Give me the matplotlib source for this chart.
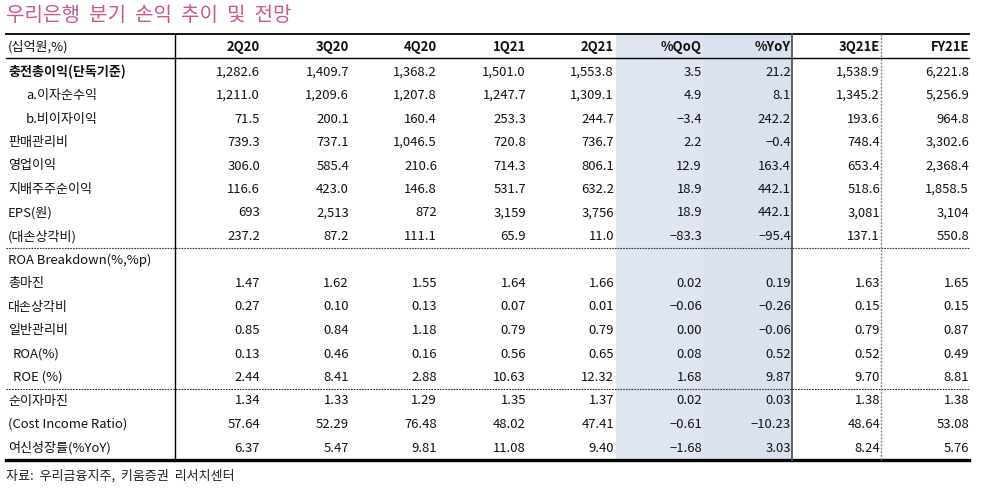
import matplotlib
matplotlib.use('Agg')
import matplotlib.pyplot as plt
from matplotlib.patches import Rectangle

plt.rcParams['font.family'] = ['Noto Sans CJK KR', 'DejaVu Sans']

TITLE = '우리은행  분기  손익  추이  및  전망'
UNIT = '(십억원,%)'
SOURCE = '자료:  우리금융지주,  키움증권  리서치센터'

columns = ['2Q20', '3Q20', '4Q20', '1Q21', '2Q21', '%QoQ', '%YoY', '3Q21E', 'FY21E']

row_labels = ['충전총이익(단독기준)', 'a.이자순수익', 'b.비이자이익', '판매관리비', '영업이익',
              '지배주주순이익', 'EPS(원)', '(대손상각비)', 'ROA Breakdown(%,%p)', '총마진',
              '대손상각비', '일반관리비', 'ROA(%)', 'ROE (%)', '순이자마진',
              '(Cost Income Ratio)', '여신성장률(%YoY)']

col_2q20 = ['1,282.6', '1,211.0', '71.5', '739.3', '306.0', '116.6', '693', '237.2', '',
            '1.47', '0.27', '0.85', '0.13', '2.44', '1.34', '57.64', '6.37']
col_3q20 = ['1,409.7', '1,209.6', '200.1', '737.1', '585.4', '423.0', '2,513', '87.2', '',
            '1.62', '0.10', '0.84', '0.46', '8.41', '1.33', '52.29', '5.47']
col_4q20 = ['1,368.2', '1,207.8', '160.4', '1,046.5', '210.6', '146.8', '872', '111.1', '',
            '1.55', '0.13', '1.18', '0.16', '2.88', '1.29', '76.48', '9.81']
col_1q21 = ['1,501.0', '1,247.7', '253.3', '720.8', '714.3', '531.7', '3,159', '65.9', '',
            '1.64', '0.07', '0.79', '0.56', '10.63', '1.35', '48.02', '11.08']
col_2q21 = ['1,553.8', '1,309.1', '244.7', '736.7', '806.1', '632.2', '3,756', '11.0', '',
            '1.66', '0.01', '0.79', '0.65', '12.32', '1.37', '47.41', '9.40']
col_qoq = ['3.5', '4.9', '−3.4', '2.2', '12.9', '18.9', '18.9', '−83.3', '',
           '0.02', '−0.06', '0.00', '0.08', '1.68', '0.02', '−0.61', '−1.68']
col_yoy = ['21.2', '8.1', '242.2', '−0.4', '163.4', '442.1', '442.1', '−95.4', '',
           '0.19', '−0.26', '−0.06', '0.52', '9.87', '0.03', '−10.23', '3.03']
col_3q21e = ['1,538.9', '1,345.2', '193.6', '748.4', '653.4', '518.6', '3,081', '137.1', '',
             '1.63', '0.15', '0.79', '0.52', '9.70', '1.38', '48.64', '8.24']
col_fy21e = ['6,221.8', '5,256.9', '964.8', '3,302.6', '2,368.4', '1,858.5', '3,104', '550.8', '',
             '1.65', '0.15', '0.87', '0.49', '8.81', '1.38', '53.08', '5.76']

table_cols = [col_2q20, col_3q20, col_4q20, col_1q21, col_2q21, col_qoq, col_yoy, col_3q21e, col_fy21e]

# layout (pixel coords, y down)
W, H = 988, 491
LEFT, RIGHT = 6, 969
TOP_RULE, HEAD_RULE, BOTTOM_RULE = 34, 58, 460
HEAD_Y, ROW0_Y, ROW_STEP = 47, 72, 23.5
COL_RIGHT = [260, 349, 437, 526, 614, 702, 791, 880, 969]
INDENT = {1: 26, 2: 26, 12: 13, 13: 13}
BOLD_ROWS = {0}
DASH_AFTER = [7, 13]
FS = 9.4

fig = plt.figure(figsize=(W / 100, H / 100), dpi=100)
ax = fig.add_axes([0, 0, 1, 1])
ax.set_xlim(0, W)
ax.set_ylim(H, 0)
ax.axis('off')

# shaded growth columns
ax.add_patch(Rectangle((616, TOP_RULE), 87, BOTTOM_RULE - TOP_RULE, color='#e0e6f1', lw=0, zorder=0))
ax.add_patch(Rectangle((703, TOP_RULE), 89, BOTTOM_RULE - TOP_RULE, color='#dbe2ef', lw=0, zorder=0))

ax.text(LEFT, 15, TITLE, fontsize=14.5, color='#cc5592', va='center', ha='left')

# rules
ax.plot([LEFT, RIGHT], [TOP_RULE, TOP_RULE], color='black', lw=1.3)
ax.plot([LEFT, RIGHT], [HEAD_RULE, HEAD_RULE], color='black', lw=1.0)
ax.plot([LEFT, RIGHT], [BOTTOM_RULE, BOTTOM_RULE], color='black', lw=2.4)
for r in DASH_AFTER:
    y = ROW0_Y + (r + 0.5) * ROW_STEP
    ax.plot([LEFT, RIGHT], [y, y], color='#333333', lw=0.8, ls=(0, (1.5, 1)))
ax.plot([175, 175], [TOP_RULE, BOTTOM_RULE], color='black', lw=1.0)
ax.plot([792, 792], [TOP_RULE, BOTTOM_RULE], color='#555555', lw=1.3)
ax.plot([881, 881], [TOP_RULE, BOTTOM_RULE], color='#888888', lw=1.0, ls=(0, (1.5, 1)))

# header
ax.text(8, HEAD_Y, UNIT, fontsize=FS, va='center', ha='left', color='#111111')
for x, name in zip(COL_RIGHT, columns):
    ax.text(x, HEAD_Y, name, fontsize=FS, fontweight='bold', va='center', ha='right', color='#111111')

# body
for i, label in enumerate(row_labels):
    y = ROW0_Y + i * ROW_STEP
    weight = 'bold' if i in BOLD_ROWS else 'normal'
    ax.text(INDENT.get(i, 8), y, label, fontsize=FS, fontweight=weight, va='center', ha='left', color='#111111')
    for x, col in zip(COL_RIGHT, table_cols):
        ax.text(x, y, col[i], fontsize=FS, va='center', ha='right', color='#111111')

ax.text(LEFT, 476, SOURCE, fontsize=FS, va='center', ha='left', color='#222222')

fig.savefig('out.png', dpi=100)
